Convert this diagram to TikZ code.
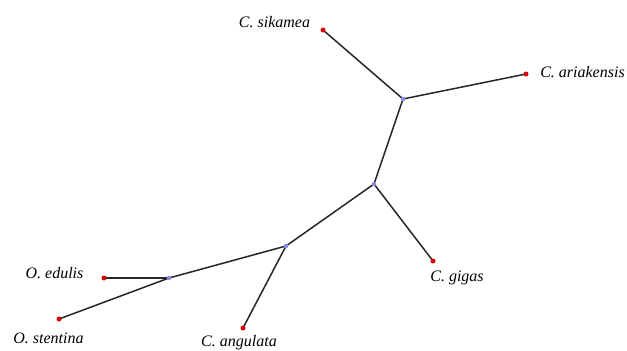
\documentclass[tikz,border=0pt]{standalone}
\usepackage{fontspec}
\setmainfont{Liberation Serif}
\begin{document}
\begin{tikzpicture}[x=1pt,y=-1pt,
  branch/.style={draw=black!85, line width=1.5pt},
  leaf/.style={circle, fill=red!85!black, inner sep=0pt, minimum size=5pt},
  inner/.style={circle, fill=blue!45!white!80!gray, inner sep=0pt, minimum size=4.5pt},
  lab/.style={font=\fontsize{16}{18}\selectfont\itshape, inner sep=0pt, anchor=base}]
\useasboundingbox (0,0) rectangle (627,351);
% internal nodes
\coordinate (A) at (403,99);
\coordinate (B) at (374,184);
\coordinate (C) at (286,246);
\coordinate (D) at (169,278);
% leaves
\coordinate (sik) at (323,30);
\coordinate (ari) at (526,74);
\coordinate (gig) at (433,261);
\coordinate (ang) at (243,328);
\coordinate (edu) at (104,278);
\coordinate (ste) at (59,319);
% branches
\draw[branch] (sik) -- (A);
\draw[branch] (ari) -- (A);
\draw[branch] (A) -- (B);
\draw[branch] (B) -- (gig);
\draw[branch] (B) -- (C);
\draw[branch] (C) -- (ang);
\draw[branch] (C) -- (D);
\draw[branch] (D) -- (edu);
\draw[branch] (D) -- (ste);
% dots
\foreach \n in {sik,ari,gig,ang,edu,ste} \node[leaf] at (\n) {};
\foreach \n in {A,B,C,D} \node[inner] at (\n) {};
% labels
\node[lab] (lsik) at (274.5,27) {C. sikamea};
\node[lab] (lari) at (582.5,77) {C. ariakensis};
\node[lab] (lgig) at (457,281) {C. gigas};
\node[lab] (ledu) at (54.5,278) {O. edulis};
\node[lab] (lste) at (48.5,343) {O. stentina};
\node[lab] (lang) at (239,346.5) {C. angulata};
\end{tikzpicture}
\end{document}
